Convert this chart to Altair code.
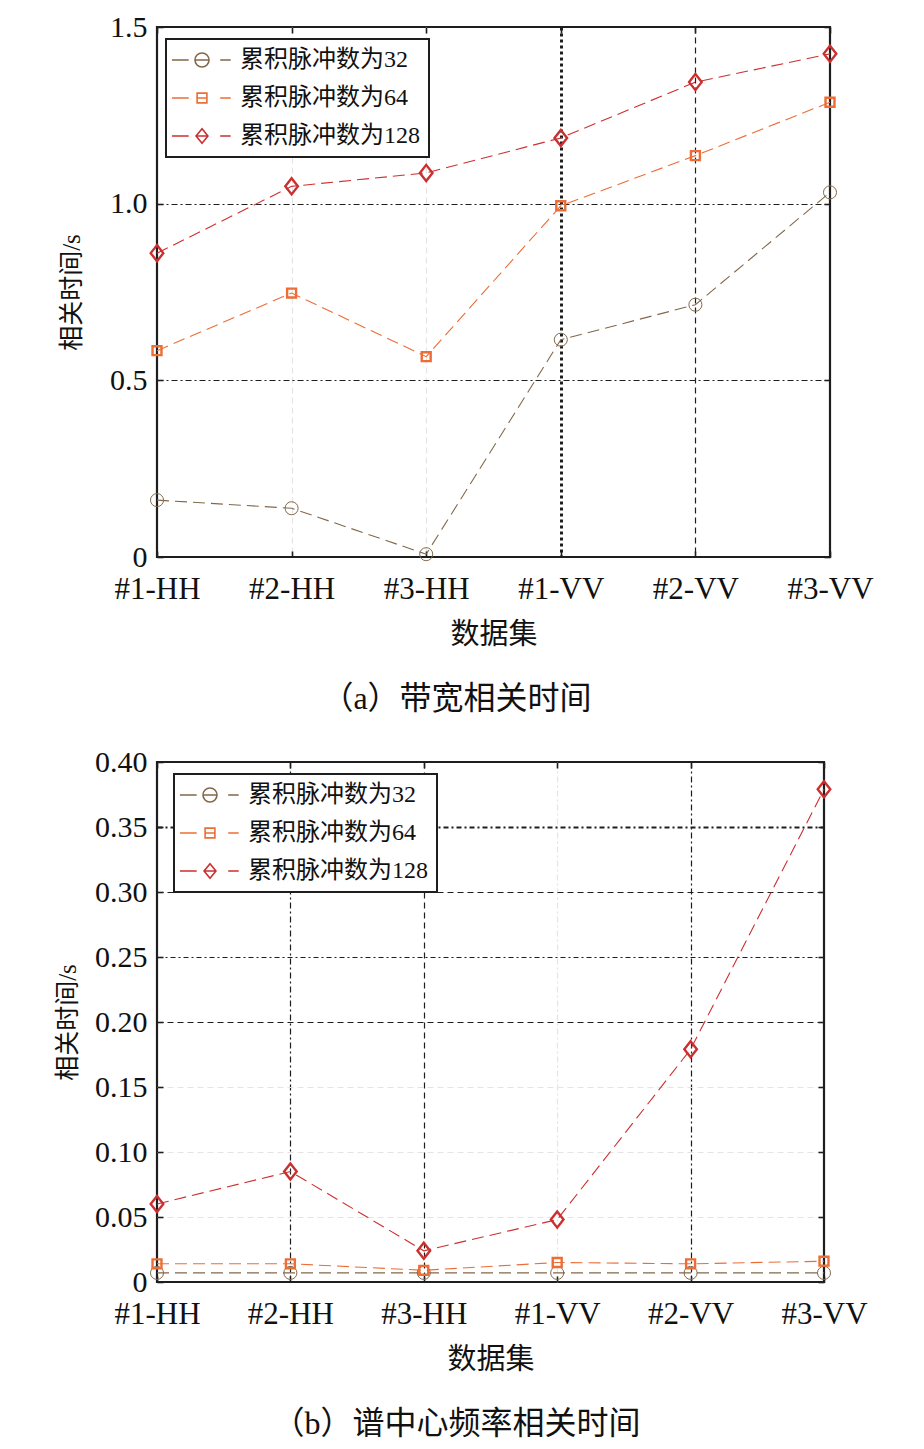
import altair as alt
import pandas as pd

# ---------------- data ----------------
datasets = ["#1-HH", "#2-HH", "#3-HH", "#1-VV", "#2-VV", "#3-VV"]
series_names = ["累积脉冲数为32", "累积脉冲数为64", "累积脉冲数为128"]

# (a) 带宽相关时间
bw_32 = [0.161, 0.138, 0.008, 0.615, 0.714, 1.032]
bw_64 = [0.584, 0.747, 0.567, 0.994, 1.136, 1.287]
bw_128 = [0.860, 1.049, 1.087, 1.186, 1.344, 1.424]

# (b) 谱中心频率相关时间
sc_32 = [0.007, 0.007, 0.007, 0.007, 0.007, 0.007]
sc_64 = [0.014, 0.014, 0.009, 0.015, 0.014, 0.016]
sc_128 = [0.060, 0.085, 0.024, 0.048, 0.179, 0.379]

top_ticks = [0, 0.5, 1.0, 1.5]
bottom_ticks = [0, 0.05, 0.10, 0.15, 0.20, 0.25, 0.30, 0.35, 0.40]

# ---------------- style ----------------
FONT = "Liberation Serif, Noto Sans CJK SC"
colors = ["#82684a", "#ec6d35", "#cc2f2f"]
shapes = ["circle", "square", "M0,-1.15L0.9,0L0,1.15L-0.9,0Z"]
sizes = [170, 80, 196]
widths = [1.0, 2.4, 2.4]
legend_paths = [
    "M-4.3,0H-1.9M-1,0H1M2.6,0H4.1M1,0A1,1,0,1,1,-1,0A1,1,0,1,1,1,0Z",
    "M-4.3,0H-1.9M-0.7,0H0.7M2.6,0H4.1M-0.7,-0.7H0.7V0.7H-0.7Z",
    "M-4.3,0H-1.9M-0.8,0H0.8M2.6,0H4.1M0,-1.05L0.85,0L0,1.05L-0.85,0Z",
]
DARK = "#1e1e1e"
FAINT = "#e4e4e4"


def long_df(vals_list):
    rows = []
    for name, vals in zip(series_names, vals_list):
        for d, v in zip(datasets, vals):
            rows.append({"dataset": d, "series": name, "value": v})
    return pd.DataFrame(rows)


def panel(df, ymax, yticks, yfmt, width, height, caption, cap_dx,
          xgrid, ygrid, legend_xy, title_x):
    xs = alt.Scale(type="point", domain=datasets, padding=0)
    ys = alt.Scale(domain=[0, ymax], nice=False, zero=True)
    base = alt.Chart(df)

    main_x = alt.Axis(
        orient="bottom", title="数据集", labelAngle=0,
        labelFont=FONT, labelFontSize=31, labelColor="#111",
        titleFont=FONT, titleFontSize=29, titleFontWeight="normal", titleColor="#111",
        labelPadding=17, titlePadding=16, ticks=False, domain=False,
        grid=True, gridColor=xgrid["color"], gridDash=xgrid["dash"],
        gridWidth=xgrid["width"], gridOpacity=xgrid["opacity"],
    )
    main_y = alt.Axis(
        orient="left", title="相关时间/s", values=yticks,
        labelExpr="datum.value == 0 ? '0' : format(datum.value, '" + yfmt + "')",
        labelFont=FONT, labelFontSize=30, labelColor="#111",
        titleFont=FONT, titleFontSize=25, titleFontWeight="normal", titleColor="#111",
        labelPadding=10, titleX=title_x, ticks=False, domain=False,
        grid=True, gridColor=ygrid["color"], gridDash=ygrid["dash"],
        gridWidth=ygrid["width"], gridOpacity=ygrid["opacity"],
    )

    def tick_axis(orient, values=None):
        kw = dict(orient=orient, offset=-6, tickSize=6, tickWidth=1.6,
                  tickColor=DARK, labels=False, domain=False, grid=False, title=None)
        if values is not None:
            kw["values"] = values
        return alt.Axis(**kw)

    axes = [
        (main_x, main_y),
        (tick_axis("top"), tick_axis("right", yticks)),
        (tick_axis("bottom"), tick_axis("left", yticks)),
    ]

    layers = []
    for i, name in enumerate(series_names):
        xa, ya = axes[i]
        layers.append(
            base.transform_filter(alt.datum.series == name)
            .mark_line(color=colors[i], strokeDash=[12, 6], strokeWidth=1.1)
            .encode(
                x=alt.X("dataset:N", scale=xs, axis=xa),
                y=alt.Y("value:Q", scale=ys, axis=ya),
            )
        )
    for i, name in enumerate(series_names):
        layers.append(
            base.transform_filter(alt.datum.series == name)
            .mark_point(shape=shapes[i], size=sizes[i], filled=False,
                        color=colors[i], strokeWidth=widths[i], opacity=1)
            .encode(
                x=alt.X("dataset:N", scale=xs, axis=None),
                y=alt.Y("value:Q", scale=ys, axis=None),
            )
        )

    leg = alt.Legend(
        title=None, orient="none", legendX=legend_xy[0], legendY=legend_xy[1],
        labelFont=FONT, labelFontSize=24, labelColor="#111", labelLimit=0,
        symbolSize=196, symbolStrokeWidth=1.6, symbolOffset=15, labelOffset=26,
        padding=9, rowPadding=14, strokeColor=DARK, fillColor="white",
    )
    layers.append(
        base.transform_filter("false")
        .mark_point(filled=False, opacity=1)
        .encode(
            x=alt.X("dataset:N", scale=xs, axis=None),
            y=alt.Y("value:Q", scale=ys, axis=None),
            color=alt.Color("series:N", scale=alt.Scale(domain=series_names, range=colors), legend=leg),
            shape=alt.Shape("series:N", scale=alt.Scale(domain=series_names, range=legend_paths), legend=leg),
        )
    )

    return (
        alt.layer(*layers)
        .resolve_axis(x="independent", y="independent")
        .properties(
            width=width, height=height,
            title=alt.TitleParams(
                caption, orient="bottom", anchor="middle", frame="group",
                font=FONT, fontSize=32, fontWeight="normal", color="#111",
                offset=35, dx=cap_dx,
            ),
        )
    )


top_xgrid = {
    "color": {"condition": {"test": "datum.value == '#1-VV' || datum.value == '#2-VV'", "value": DARK}, "value": FAINT},
    "dash": {"condition": {"test": "datum.value == '#1-VV'", "value": [3, 3]}, "value": [6, 4]},
    "width": {"condition": {"test": "datum.value == '#1-VV'", "value": 3}, "value": 1.2},
    "opacity": {"condition": {"test": "datum.value == '#1-HH' || datum.value == '#3-VV'", "value": 0}, "value": 1},
}
top_ygrid = {
    "color": DARK,
    "dash": [6, 3, 2, 3],
    "width": 1.2,
    "opacity": {"condition": {"test": "datum.value < 0.01 || datum.value > 1.49", "value": 0}, "value": 1},
}
bot_xgrid = {
    "color": {"condition": {"test": "datum.value == '#1-VV'", "value": FAINT}, "value": DARK},
    "dash": {"condition": {"test": "datum.value == '#3-HH'", "value": [6, 4]}, "value": [6, 3, 2, 3]},
    "width": 1.2,
    "opacity": {"condition": {"test": "datum.value == '#1-HH' || datum.value == '#3-VV'", "value": 0}, "value": 1},
}
bot_ygrid = {
    "color": {"condition": {"test": "datum.value > 0.19 && datum.value < 0.39", "value": DARK}, "value": FAINT},
    "dash": {"condition": {"test": "abs(datum.value - 0.25) < 0.001 || abs(datum.value - 0.35) < 0.001", "value": [5, 3, 2, 3]}, "value": [6, 4]},
    "width": {"condition": {"test": "abs(datum.value - 0.35) < 0.001", "value": 2}, "value": 1.2},
    "opacity": {"condition": {"test": "datum.value < 0.001 || datum.value > 0.399", "value": 0}, "value": 1},
}

top = panel(long_df([bw_32, bw_64, bw_128]), 1.5, top_ticks, ".1f", 673, 530,
            "（a）带宽相关时间", -37, top_xgrid, top_ygrid, (9, 12), -73)
bottom = panel(long_df([sc_32, sc_64, sc_128]), 0.40, bottom_ticks, ".2f", 667, 520,
               "（b）谱中心频率相关时间", -34, bot_xgrid, bot_ygrid, (17, 12), -77)

chart = (
    alt.vconcat(top, bottom, spacing=28)
    .resolve_scale(color="independent", shape="independent")
    .resolve_legend(color="independent", shape="independent")
    .properties(padding={"left": 45, "top": 2, "right": 5, "bottom": 5}, background="white")
    .configure_view(stroke=DARK, strokeWidth=2.2)
    .configure_legend(strokeWidth=2)
)

chart.save("out.html", embed_options={"renderer": "svg", "actions": False})
